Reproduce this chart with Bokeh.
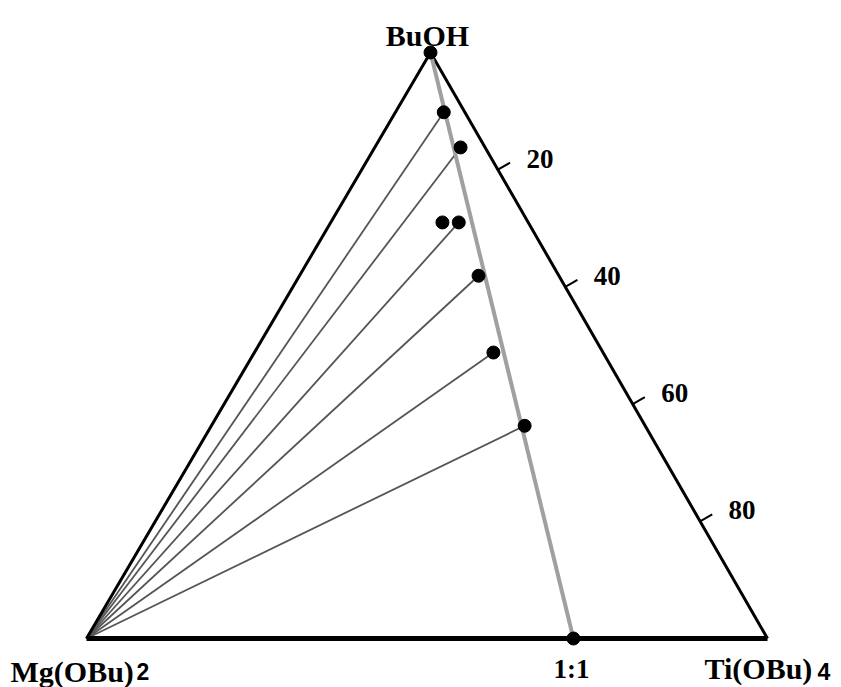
import numpy as np
from bokeh.plotting import figure
from bokeh.models import Range1d
from bokeh.core.properties import value
from bokeh.embed import file_html
from bokeh.resources import INLINE

# ---- data: ternary compositions (%) ----
buoh_pct = [100.0, 89.8, 83.8, 71.0, 71.0, 61.9, 48.8, 36.3, 0.0]
ti_pct = [0.0, 7.1, 12.6, 16.4, 18.8, 26.3, 35.1, 46.0, 71.5]
tie_idx = [1, 2, 4, 5, 6, 7]          # points joined to the Mg(OBu)2 vertex
line_idx = [0, 8]                      # grey line: BuOH vertex -> 1:1 point
axis_ticks = [20, 40, 60, 80]          # along BuOH -> Ti(OBu)4 edge
axis_tick_labels = ["20", "40", "60", "80"]
vertex_names = ["BuOH", "Mg(OBu)", "Ti(OBu)"]
vertex_subs = ["2", "4"]
ratio_label = "1:1"

# ---- layout (styles / geometry) ----
W, H = 841, 687
SCALE = 681.0                       # px per unit
TOP_X, TOP_Y = 344 / SCALE, 586 / SCALE
X0_PX, Y0_PX = 86, 638              # Mg vertex position inside frame


def tern(b, t):
    b = np.asarray(b, dtype=float) / 100.0
    t = np.asarray(t, dtype=float) / 100.0
    return t + TOP_X * b, TOP_Y * b


def off(x, y, dx_px, dy_px):
    # shift a data point by screen pixels (dy positive = down)
    return x + dx_px / SCALE, y - dy_px / SCALE


p = figure(width=W, height=H, output_backend="svg", toolbar_location=None,
           x_axis_type=None, y_axis_type=None, min_border=0,
           x_range=Range1d(-X0_PX / SCALE, (W - X0_PX) / SCALE),
           y_range=Range1d(-(H - Y0_PX) / SCALE, Y0_PX / SCALE))
p.outline_line_color = None
p.grid.visible = False
p.background_fill_color = "white"

# vertices
mgx, mgy = tern(0, 0)
tix, tiy = tern(0, 100)
bux, buy = tern(100, 0)

# tie lines
px_, py_ = tern(buoh_pct, ti_pct)
for i in tie_idx:
    p.line([float(mgx), px_[i]], [float(mgy), py_[i]], line_color="#555555", line_width=1.8)

# triangle
p.line([float(mgx), float(bux), float(tix)], [float(mgy), float(buy), float(tiy)],
       line_color="black", line_width=3)
p.line([float(mgx), float(tix)], [float(mgy), float(tiy)], line_color="black", line_width=5)

# ticks on right edge
d = np.array([float(tix) - float(bux), float(tiy) - float(buy)])
d = d / np.linalg.norm(d)
n = np.array([-d[1], d[0]])
if n[0] < 0:
    n = -n
tick_len = 14 / SCALE
for v, lab in zip(axis_ticks, axis_tick_labels):
    ex, ey = tern(100 - v, v)
    ex, ey = float(ex), float(ey)
    p.line([ex, ex + n[0] * tick_len], [ey, ey + n[1] * tick_len], line_color="black", line_width=2)
    lx, ly = off(ex, ey, 42, -11)
    p.text([lx], [ly], text=[lab], text_align="center", text_baseline="middle",
           text_font=value("Liberation Serif"), text_font_style="bold",
           text_font_size="27px", text_color="black")

# grey line
p.line([px_[line_idx[0]], px_[line_idx[1]]], [py_[line_idx[0]], py_[line_idx[1]]],
       line_color="#a0a0a0", line_width=4)

# points
p.scatter(px_, py_, size=13, color="black")

serif = dict(text_font=value("Liberation Serif"), text_font_style="bold",
             text_font_size="30px", text_color="black", text_baseline="alphabetic")
sans = dict(text_font=value("Liberation Sans"), text_font_style="bold",
            text_font_size="23px", text_color="black", text_baseline="alphabetic")

x, y = off(float(bux), float(buy), -3, -17)
p.text([x], [y], text=[vertex_names[0]], text_align="center", **serif)
x, y = off(float(mgx), float(mgy), -76, 33)
p.text([x], [y], text=[vertex_names[1]], text_align="left", **serif)
x, y = off(float(mgx), float(mgy), 50, 33)
p.text([x], [y], text=[vertex_subs[0]], text_align="left", **sans)
x, y = off(float(tix), float(tiy), -63, 30)
p.text([x], [y], text=[vertex_names[2]], text_align="left", **serif)
x, y = off(float(tix), float(tiy), 50, 33)
p.text([x], [y], text=[vertex_subs[1]], text_align="left", **sans)
x, y = off(px_[8], py_[8], -2, 30)
p.text([x], [y], text=[ratio_label], text_align="center",
       **{**serif, "text_font_size": "27px"})

open("out.html", "w").write(file_html(p, INLINE))
